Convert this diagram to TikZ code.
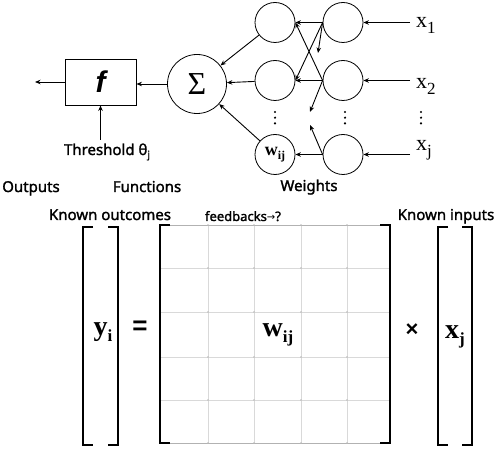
\documentclass[tikz,border=0pt]{standalone}
\usepackage{fontspec}
\setmainfont{Noto Sans}
\newfontfamily\lblfont[FakeBold=1.6]{Noto Sans}
\newfontfamily\serifr{Liberation Serif}
\newfontfamily\sansb{Liberation Sans}
\newfontfamily\dejavu{DejaVu Sans}
\usetikzlibrary{arrows.meta}
\begin{document}
\begin{tikzpicture}[x=1pt,y=-1pt,
  neuron/.style={circle,draw,line width=0.8pt,minimum size=40pt,inner sep=0pt},
  conn/.style={line width=0.9pt,-{Stealth[length=5.5pt,width=4.5pt]}},
  lbl/.style={anchor=base,font=\lblfont\fontsize{15}{15}\selectfont},
  xlbl/.style={anchor=base west,inner sep=0pt,font=\serifr\fontsize{22}{22}\selectfont},
  mlbl/.style={inner sep=0pt,font=\serifr\bfseries\fontsize{28}{28}\selectfont},
  brk/.style={line width=1.6pt},
  gridl/.style={gray!30,line width=0.6pt},
  gdot/.style={gray!55}
]
\useasboundingbox (0,0) rectangle (498,449);

% weight neurons
\node[neuron] (c11) at (275,22.5) {};
\node[neuron] (c12) at (275,80.5) {};
\node[neuron] (c13) at (275,154.5) {\serifr\bfseries\fontsize{18}{18}\selectfont w\raisebox{-4pt}{\fontsize{12}{12}\selectfont ij}};
\node[neuron] (c21) at (343,22.5) {};
\node[neuron] (c22) at (343,80.5) {};
\node[neuron] (c23) at (343,154.5) {};

% inputs
\node[xlbl] (x1) at (416,28) {x\raisebox{-6pt}{\fontsize{17}{17}\selectfont 1}};
\node[xlbl] (x2) at (416,89) {x\raisebox{-6pt}{\fontsize{17}{17}\selectfont 2}};
\node[xlbl] (xj) at (416,151) {x\raisebox{-6pt}{\fontsize{17}{17}\selectfont j}};
\draw[conn,shorten <=6pt] (c21.east -| x1.west) -- (c21.east);
\draw[conn,shorten <=6pt] (c22.east -| x2.west) -- (c22.east);
\draw[conn,shorten <=6pt] (c23.east -| xj.west) -- (c23.east);

% vertical dots
\foreach \xx in {275,345,421} {
  \foreach \yy in {112,117.7,123.4} { \fill (\xx,\yy) circle (1.2pt); }
}

% connections between the columns
\coordinate (a1) at (318,53);
\coordinate (a2) at (310,112);
\coordinate (a3) at (310,125);
\draw[conn] (c21.west) -- (c11.east);
\draw[conn] (c21.west) -- (c12.east);
\draw[conn] (c21.west) -- (a1);
\draw[conn] (c22.west) -- (c12.east);
\draw[conn] (c22.west) -- (c11.east);
\draw[conn] (c22.west) -- (a2);
\draw[conn] (c23.west) -- (c13.east);
\draw[conn] (c23.west) -- (a3);

% summation
\node[circle,draw,line width=0.8pt,minimum size=59pt,inner sep=0pt] (sig) at (197,84)
  {\serifr\fontsize{32}{32}\selectfont Σ};
\draw[conn] (c11) -- (sig);
\draw[conn] (c12) -- (sig);
\draw[conn] (c13) -- (sig);

% function box
\node[draw,line width=0.9pt,minimum width=71pt,minimum height=46pt,inner sep=0pt] (fbox) at (100.5,82)
  {\sansb\fontsize{30}{30}\selectfont\bfseries\itshape f};
\draw[conn] (sig.west) -- (sig.west -| fbox.east);
\coordinate (out) at (35,82);
\draw[conn] (fbox.west) -- (out);
\node[lbl] (thr) at (107,155) {Threshold θ\raisebox{-3pt}{\fontsize{10}{10}\selectfont j}};
\draw[conn] (thr.north -| fbox.south) -- (fbox.south);

% captions
\node[lbl] (outs) at (31,192) {Outputs};
\node[lbl] (funs) at (147,192) {Functions};
\node[lbl] (wts) at (309,191) {Weights};
\node[lbl] (kout) at (110,220) {Known outcomes};
\node[lbl,font=\lblfont\fontsize{13}{13}\selectfont] (fb) at (243,221) {feedbacks{\dejavu\fontsize{10}{10}\selectfont →}?};
\node[lbl] (kin) at (446,220) {Known inputs};

% matrix grid
\foreach \xx in {208,254,301,347} { \draw[gridl] (\xx,225) -- (\xx,443); }
\foreach \yy in {268,312,357,400} { \draw[gridl] (160,\yy) -- (390,\yy); }
\draw[gray!60,line width=0.8pt] (160,225) -- (390,225);
\draw[gray!60,line width=0.8pt] (160,443) -- (390,443);
\foreach \xx in {160,208,254,301,347,390} {
  \foreach \yy in {225,268,312,357,400,443} { \fill[gdot] (\xx,\yy) circle (0.8pt); }
}
% brackets
\draw[brk] (170,225) -- (160,225) -- (160,443) -- (170,443);
\draw[brk] (380,225) -- (390,225) -- (390,443) -- (380,443);
\draw[brk] (93,227) -- (83,227) -- (83,445) -- (93,445);
\draw[brk] (108,227) -- (118,227) -- (118,445) -- (108,445);
\draw[brk] (448,227) -- (438,227) -- (438,445) -- (448,445);
\draw[brk] (462,227) -- (472,227) -- (472,445) -- (462,445);

% matrix labels
\node[mlbl] (yi) at (103,332) {y\raisebox{-6pt}{\fontsize{17}{17}\selectfont i}};
\node[font=\sansb\bfseries\fontsize{26}{26}\selectfont] (eq) at (140,328) {=};
\node[mlbl] (wij) at (278,335) {w\raisebox{-6pt}{\fontsize{17}{17}\selectfont ij}};
\node[font=\sansb\bfseries\fontsize{22}{22}\selectfont] (times) at (412,330) {×};
\node[mlbl] (xjm) at (455,337) {x\raisebox{-6pt}{\fontsize{17}{17}\selectfont j}};
\end{tikzpicture}
\end{document}
